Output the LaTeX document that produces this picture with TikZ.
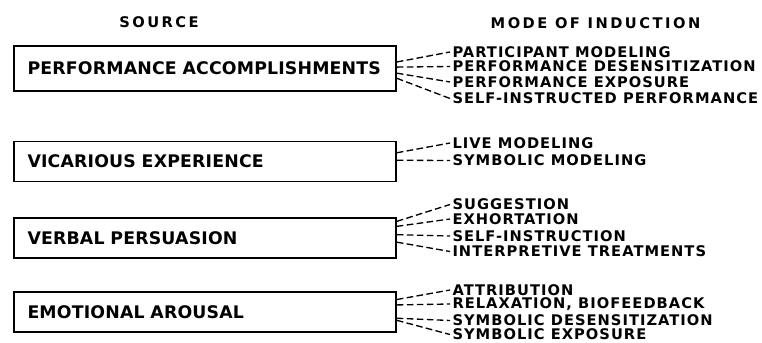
\documentclass[tikz,border=0pt]{standalone}
\usepackage{fontspec}
\setmainfont{DejaVu Sans}
\newfontfamily\srcfont[LetterSpace=1]{DejaVu Sans}
\newfontfamily\modefont[LetterSpace=7]{DejaVu Sans}
\newfontfamily\headfont[LetterSpace=17]{DejaVu Sans}
\usepackage{tikz}
\usetikzlibrary{calc}
\tikzset{every picture/.style={line width=0.75pt}}
\tikzset{
  srcbox/.style={draw, line width=1.2pt, text width=266.25pt, inner xsep=10.125pt, align=left, minimum height=30pt, font=\srcfont\bfseries\fontsize{13}{15}\selectfont},
  modelabel/.style={anchor=west, inner xsep=1.5pt, inner ysep=0.75pt, font=\modefont\bfseries\fontsize{11}{12}\selectfont},
  heading/.style={font=\headfont\bfseries\fontsize{11}{12}\selectfont},
  fan/.style={dash pattern=on 5pt off 2.5pt, line width=1pt}
}

\begin{document}
\begin{tikzpicture}[x=0.75pt,y=0.75pt,yscale=-1,xscale=1]
\path[use as bounding box] (0,0) rectangle (762,342);

% Headings
\node[heading] (source) at (159,22) {SOURCE};
\node[heading] (mode) at (595.5,23.5) {MODE OF INDUCTION};

%Shape: Rectangle [performance]
\node[srcbox, minimum height=33.75pt] (perf) at (205,68.5) {PERFORMANCE ACCOMPLISHMENTS};
%Shape: Rectangle [vicarious]
\node[srcbox] (vica) at (205,161.5) {VICARIOUS EXPERIENCE};
%Shape: Rectangle [verbal]
\node[srcbox] (verb) at (205,238) {VERBAL PERSUASION};
%Shape: Rectangle [emotional]
\node[srcbox] (emot) at (205,312) {EMOTIONAL AROUSAL};

% Text Node
\node[modelabel] (partmod) at (450,52) {PARTICIPANT MODELING};
\node[modelabel] (perfdes) at (450,66.5) {PERFORMANCE DESENSITIZATION};
\node[modelabel] (perfexp) at (450,82) {PERFORMANCE EXPOSURE};
\node[modelabel] (selfperf) at (450,98.5) {SELF-INSTRUCTED PERFORMANCE};
% Text Node
\node[modelabel] (livemod) at (450,143) {LIVE MODELING};
\node[modelabel] (symbmod) at (450,160.5) {SYMBOLIC MODELING};
% Text Node
\node[modelabel] (sugg) at (450,204.5) {SUGGESTION};
\node[modelabel] (exhort) at (450,219) {EXHORTATION};
\node[modelabel] (selfinst) at (450,236) {SELF-INSTRUCTION};
\node[modelabel] (interp) at (450,251.5) {INTERPRETIVE TREATMENTS};
% Text Node
\node[modelabel] (attrib) at (450,290) {ATTRIBUTION};
\node[modelabel] (relax) at (450,304) {RELAXATION, BIOFEEDBACK};
\node[modelabel] (symbdes) at (450,320.5) {SYMBOLIC DESENSITIZATION};
\node[modelabel] (symbexp) at (450,334.5) {SYMBOLIC EXPOSURE};

%Straight Lines [performance]
\draw[fan] ($(perf.north east)!0.36!(perf.south east)$) -- (partmod.west);
\draw[fan] ($(perf.north east)!0.47!(perf.south east)$) -- (perfdes.west);
\draw[fan] ($(perf.north east)!0.60!(perf.south east)$) -- (perfexp.west);
\draw[fan] ($(perf.north east)!0.71!(perf.south east)$) -- (selfperf.west);
%Straight Lines [vicarious]
\draw[fan] ($(vica.north east)!0.29!(vica.south east)$) -- (livemod.west);
\draw[fan] ($(vica.north east)!0.47!(vica.south east)$) -- (symbmod.west);
%Straight Lines [verbal]
\draw[fan] ($(verb.north east)!0.10!(verb.south east)$) -- (sugg.west);
\draw[fan] ($(verb.north east)!0.22!(verb.south east)$) -- (exhort.west);
\draw[fan] ($(verb.north east)!0.42!(verb.south east)$) -- (selfinst.west);
\draw[fan] ($(verb.north east)!0.60!(verb.south east)$) -- (interp.west);
%Straight Lines [emotional]
\draw[fan] ($(emot.north east)!0.20!(emot.south east)$) -- (attrib.west);
\draw[fan] ($(emot.north east)!0.33!(emot.south east)$) -- (relax.west);
\draw[fan] ($(emot.north east)!0.65!(emot.south east)$) -- (symbdes.west);
\draw[fan] ($(emot.north east)!0.70!(emot.south east)$) -- (symbexp.west);

\end{tikzpicture}
\end{document}
